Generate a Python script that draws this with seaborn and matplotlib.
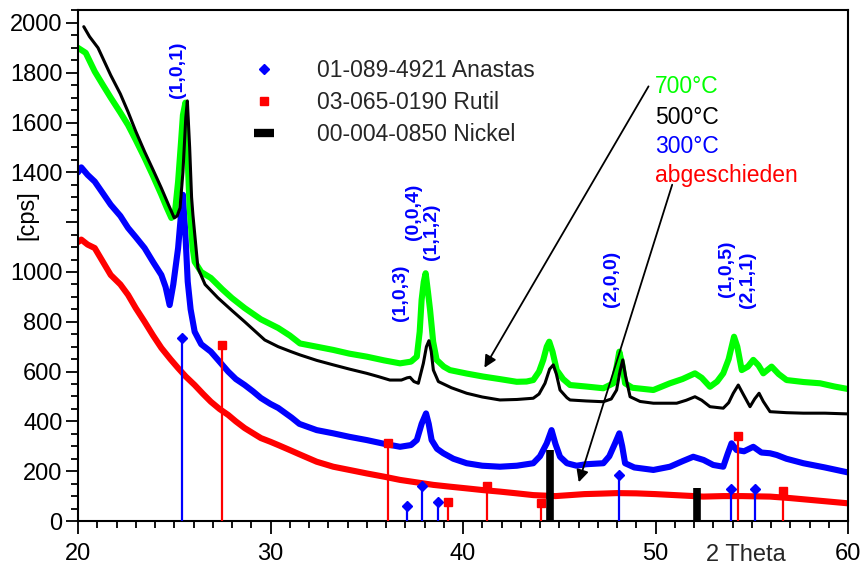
import matplotlib
matplotlib.use("Agg")
import matplotlib.pyplot as plt
import matplotlib.transforms as mtransforms
from matplotlib.lines import Line2D
from matplotlib.ticker import MultipleLocator
import pandas as pd
import seaborn as sns

# ---- diffractogram data (2 Theta in degrees, intensity in cps) ----
x_700 = [20.0, 20.4, 20.87, 21.3, 21.7, 22.2, 22.6, 23.0, 23.46, 23.9, 24.33, 24.6, 24.85, 25.05, 25.2,
         25.35, 25.45, 25.58, 25.7, 25.8, 25.95, 26.06, 26.4, 26.9, 27.5, 28.0, 28.66, 29.5, 30.4, 31.0,
         31.53, 32.4, 33.26, 34.1, 35.0, 35.9, 36.73, 37.3, 37.6, 37.75, 37.85, 37.96, 38.06, 38.18, 38.29,
         38.45, 38.63, 39.0, 39.32, 40.2, 41.05, 41.9, 42.79, 43.3, 43.65, 43.95, 44.17, 44.35, 44.48, 44.65,
         44.87, 45.2, 45.56, 46.4, 47.29, 47.81, 47.98, 48.12, 48.27, 48.42, 48.8, 49.89, 50.75, 51.4, 52.05,
         52.4, 52.83, 53.2, 53.52, 53.8, 54.08, 54.25, 54.48, 54.8, 55.08, 55.35, 55.6, 56.03, 56.4, 56.81,
         57.7, 58.55, 59.3, 60.0]
y_700 = [1900, 1880, 1805, 1750, 1700, 1640, 1590, 1530, 1458, 1385, 1310, 1260, 1217, 1250, 1363,
         1520, 1630, 1680, 1450, 1257, 1100, 1041, 1000, 976, 930, 895, 855, 810, 775, 745,
         713, 700, 687, 672, 660, 645, 633, 640, 660, 760, 888, 960, 995, 920, 847,
         720, 647, 620, 606, 592, 580, 570, 559, 560, 566, 600, 647, 700, 720, 680,
         606, 570, 546, 540, 533, 553, 620, 680, 630, 553, 535, 526, 553, 570, 593,
         575, 539, 560, 593, 650, 740, 700, 606, 620, 647, 625, 593, 620, 590, 566,
         558, 553, 540, 530]

x_500 = [20.3, 20.6, 21.04, 21.4, 21.7, 22.2, 22.6, 23.0, 23.46, 23.9, 24.33, 24.7, 25.0, 25.15, 25.3,
         25.45, 25.6, 25.68, 25.8, 25.9, 25.97, 26.23, 26.6, 27.27, 28.0, 28.66, 29.7, 30.4, 31.07, 31.53,
         32.4, 33.26, 34.1, 35.0, 35.6, 36.2, 36.8, 37.1, 37.25, 37.45, 37.68, 37.94, 38.1, 38.23, 38.35,
         38.46, 38.72, 39.4, 40.19, 41.0, 41.92, 42.8, 43.65, 43.95, 44.26, 44.5, 44.69, 44.85, 45.04, 45.4,
         45.56, 46.4, 47.29, 47.7, 47.98, 48.15, 48.3, 48.45, 48.68, 49.2, 49.89, 51.1, 51.6, 52.05, 52.4,
         52.83, 53.52, 53.8, 54.04, 54.3, 54.55, 54.91, 55.15, 55.38, 55.6, 55.95, 56.8, 57.68, 58.8, 60.0]
y_500 = [1985, 1945, 1900, 1840, 1790, 1715, 1643, 1565, 1483, 1410, 1337, 1270, 1217, 1225, 1257,
         1400, 1620, 1687, 1500, 1300, 1229, 1016, 950, 896, 845, 800, 727, 700, 680, 667,
         645, 627, 610, 593, 580, 566, 566, 575, 577, 560, 553, 633, 700, 724, 680,
         606, 560, 535, 513, 498, 486, 488, 493, 510, 553, 610, 627, 590, 526, 495,
         486, 482, 479, 490, 526, 600, 647, 580, 499, 480, 473, 473, 485, 499, 485,
         459, 453, 475, 513, 546, 510, 459, 490, 513, 480, 439, 435, 433, 433, 430]

x_300 = [20.0, 20.17, 20.5, 20.87, 21.3, 21.7, 22.2, 22.6, 23.0, 23.46, 23.9, 24.33, 24.55, 24.76, 24.95,
         25.2, 25.35, 25.45, 25.58, 25.7, 25.85, 26.06, 26.4, 26.9, 27.35, 27.8, 28.2, 28.66, 29.1, 29.5,
         30.0, 30.4, 31.1, 31.5, 32.4, 33.26, 34.1, 35.0, 35.9, 36.73, 37.3, 37.6, 37.85, 38.08, 38.22,
         38.37, 38.65, 38.98, 39.5, 40.19, 41.0, 41.92, 42.8, 43.65, 44.0, 44.35, 44.6, 44.8, 45.04, 45.4,
         45.9, 46.4, 47.29, 47.6, 47.9, 48.12, 48.27, 48.42, 48.9, 49.89, 50.75, 51.4, 51.96, 52.5, 53.0,
         53.52, 53.75, 53.95, 54.21, 54.6, 55.08, 55.5, 55.95, 56.3, 56.8, 57.68, 58.8, 60.0]
y_300 = [1400, 1420, 1390, 1363, 1315, 1270, 1225, 1177, 1140, 1096, 1040, 988, 940, 867, 950,
         1096, 1230, 1310, 1150, 961, 850, 760, 710, 680, 640, 600, 570, 546, 520, 494,
         470, 454, 415, 390, 365, 352, 338, 325, 310, 298, 305, 325, 390, 432, 390,
         325, 290, 272, 250, 232, 222, 218, 222, 232, 260, 312, 365, 310, 258, 232,
         222, 228, 232, 260, 312, 352, 300, 232, 215, 205, 218, 240, 258, 245, 225,
         218, 270, 312, 285, 280, 298, 275, 272, 265, 250, 232, 215, 195]

x_dep = [20.0, 20.17, 20.5, 20.87, 21.3, 21.7, 22.2, 22.6, 23.0, 23.46, 23.9, 24.33, 24.8, 25.2, 25.6,
         26.06, 26.5, 26.9, 27.35, 27.8, 28.2, 28.66, 29.1, 29.5, 30.0, 30.4, 31.0, 31.5, 32.4, 33.26,
         34.1, 35.0, 35.9, 36.73, 37.6, 38.46, 39.3, 40.19, 41.05, 41.92, 42.8, 43.65, 44.8, 45.56, 46.3,
         47.2, 48.0, 49.0, 50.0, 51.0, 52.0, 52.48, 53.5, 54.5, 55.95, 57.0, 58.0, 59.0, 60.0]
y_dep = [1120, 1130, 1110, 1096, 1040, 988, 950, 908, 855, 800, 745, 695, 650, 614, 580,
         546, 510, 479, 450, 426, 400, 373, 352, 333, 318, 305, 285, 268, 238, 218,
         205, 191, 178, 165, 155, 145, 138, 131, 124, 118, 111, 104, 100, 104, 108,
         110, 112, 111, 108, 104, 100, 98, 100, 100, 98, 92, 85, 78, 71]

# ---- reference patterns ----
anatase_pos = [25.42, 37.07, 37.89, 38.68, 48.12, 53.92, 55.15]
anatase_int = [735, 61, 140, 78, 185, 127, 127]
rutile_pos = [27.5, 36.1, 39.2, 41.25, 44.05, 54.3, 56.6]
rutile_int = [707, 314, 75, 142, 71, 343, 122]
nickel_pos = [44.53, 52.14]
nickel_int = [285, 134]

# Miller indices of the anatase reflections
hkl_labels = ["(1,0,1)", "(1,0,3)", "(0,0,4)", "(1,1,2)", "(2,0,0)", "(1,0,5)", "(2,1,1)"]
hkl_x = [25.19, 36.73, 37.42, 38.37, 47.73, 53.7, 54.8]
hkl_y = [1811, 916, 1241, 1163, 972, 1012, 968]

series_names = ["700°C", "500°C", "300°C", "abgeschieden"]
series_colors = ["#00ff00", "#000000", "#0000ff", "#ff0000"]
legend_labels = ["01-089-4921 Anastas", "03-065-0190 Rutil", "00-004-0850 Nickel"]

y_ticks = [0, 200, 400, 600, 800, 1000, 1200, 1400, 1600, 1800, 2000]
y_ticklabels = ["0", "200", "400", "600", "800", "1000", "", "1400", "1600", "1800", "2000"]
x_ticks = [20, 30, 40, 50, 60]

sns.set_theme(style="ticks")
plt.rcParams["font.family"] = ["Liberation Sans", "DejaVu Sans"]

fig = plt.figure(figsize=(8.62, 5.67), dpi=100)
ax = fig.add_axes([78 / 862, 46 / 567, 770 / 862, 511 / 567])

frames = []
for name, xs, ys in zip(series_names,
                        [x_700, x_500, x_300, x_dep],
                        [y_700, y_500, y_300, y_dep]):
    frames.append(pd.DataFrame({"two_theta": xs, "cps": ys, "sample": name}))
df = pd.concat(frames, ignore_index=True)

palette = dict(zip(series_names, series_colors))
widths = {"700°C": 4.4, "500°C": 2.2, "300°C": 4.4, "abgeschieden": 4.4}
for name in ["abgeschieden", "300°C", "700°C", "500°C"]:
    sns.lineplot(data=df[df["sample"] == name], x="two_theta", y="cps", color=palette[name],
                 lw=widths[name], sort=False, estimator=None, ax=ax, legend=False, zorder=2)

# reference sticks
ax.vlines(anatase_pos, 0, anatase_int, colors="#0000ff", lw=1.6, zorder=4)
ax.plot(anatase_pos, anatase_int, ls="none", marker="D", ms=5, color="#0000ff", zorder=5)
ax.vlines(rutile_pos, 0, rutile_int, colors="#ff0000", lw=1.6, zorder=4)
ax.plot(rutile_pos, rutile_int, ls="none", marker="s", ms=6.2, color="#ff0000", zorder=5)
ax.vlines(nickel_pos, 0, nickel_int, colors="black", lw=5.5, zorder=4, clip_on=False)

# Miller indices
for lab, hx, hy in zip(hkl_labels, hkl_x, hkl_y):
    ax.text(hx, hy, lab, rotation=90, color="#0000ff", fontsize=14, fontweight="bold",
            ha="center", va="center")

# sample labels
for name, col, ty in zip(series_names, series_colors, [1745, 1622, 1502, 1386]):
    ax.text(49.97, ty, name, color=col, fontsize=16.5, ha="left", va="center")

# arrows from the labels to the curves
ax.annotate("", xy=(41.04, 606), xytext=(49.71, 1755),
            arrowprops=dict(arrowstyle="-|>", color="black", lw=1.3, mutation_scale=18))
ax.annotate("", xy=(45.97, 145), xytext=(50.91, 1361),
            arrowprops=dict(arrowstyle="-|>", color="black", lw=1.3, mutation_scale=18))

# legend for reference patterns
handles = [Line2D([], [], ls="none", marker="D", ms=5, color="#0000ff"),
           Line2D([], [], ls="none", marker="s", ms=6.2, color="#ff0000"),
           Line2D([0, 1], [0, 0], color="black", lw=6, solid_capstyle="butt")]
ax.legend(handles, legend_labels, loc="upper left", bbox_to_anchor=(0.2284, 0.905), frameon=False,
          fontsize=16.5, handlelength=0.9, handletextpad=1.85, labelspacing=0.4, borderaxespad=0,
          borderpad=0)

ax.set_xlim(20, 60)
ax.set_ylim(0, 2052)
ax.set_xticks(x_ticks)
ax.xaxis.set_minor_locator(MultipleLocator(1))
ax.set_yticks(y_ticks)
ax.set_yticklabels(y_ticklabels)
ax.yaxis.set_minor_locator(MultipleLocator(50))
ax.tick_params(axis="both", which="major", labelsize=17, length=9, width=1.3, color="black",
               labelcolor="black", direction="out")
ax.tick_params(axis="both", which="minor", length=5, width=1.3, color="black", direction="out")
ax.tick_params(axis="x", which="major", pad=7)
ax.tick_params(axis="y", which="major", pad=2)

ax.set_xlabel("")
ax.set_ylabel("[cps]", fontsize=17, color="black")
ax.yaxis.set_label_coords(-0.052, 0.599)

trans = mtransforms.blended_transform_factory(ax.transData, ax.transAxes)
ax.text(54.7, -0.066, "2 Theta", transform=trans, fontsize=17, ha="center", va="center")

for sp in ax.spines.values():
    sp.set_visible(True)
    sp.set_color("black")
    sp.set_linewidth(1.5)
ax.set_facecolor("white")
fig.patch.set_facecolor("white")

fig.savefig("out.png", dpi=100)
